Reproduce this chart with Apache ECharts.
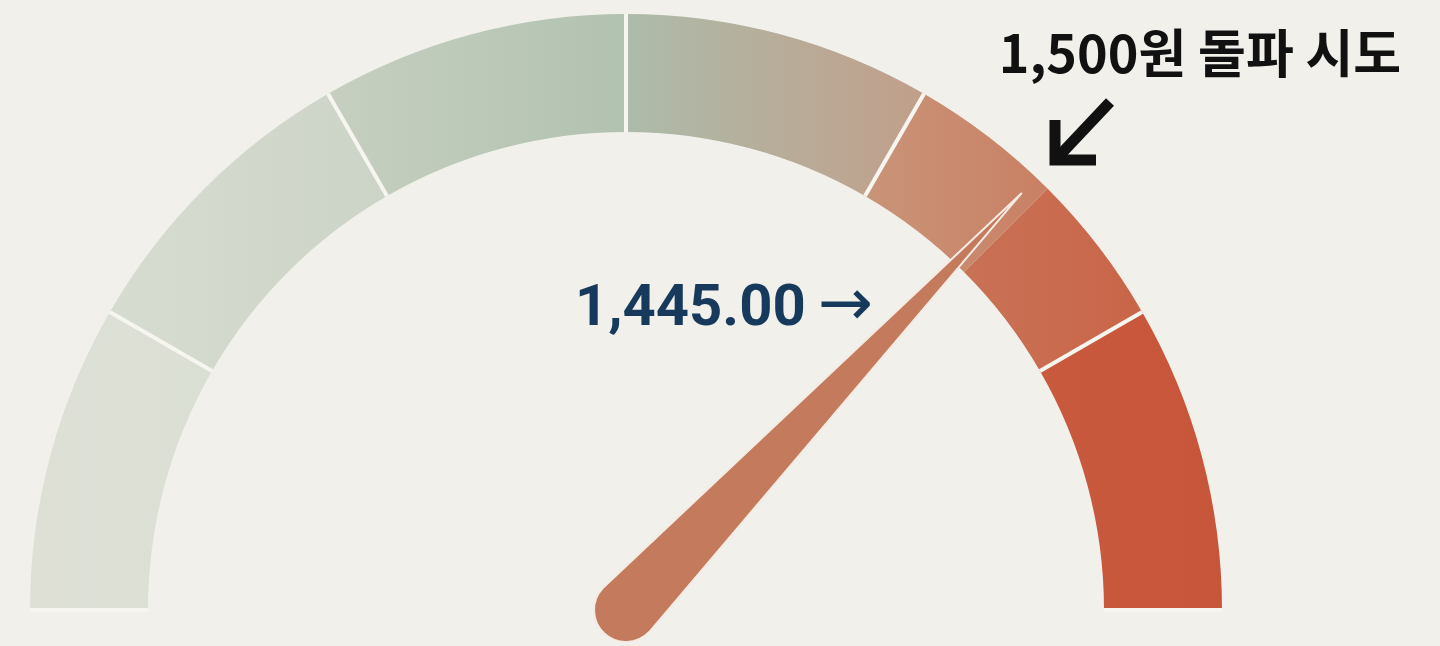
<!DOCTYPE html>
<html>
<head>
<meta charset="utf-8">
<script src="https://cdn.jsdelivr.net/npm/echarts@6/dist/echarts.min.js"></script>
<style>
  html, body { margin: 0; padding: 0; background: #f1f0eb; }
  #gauge { width: 1440px; height: 646px; }
</style>
</head>
<body>
<div id="gauge"></div>
<script>
// scale of the dial and the current rate
var scaleMin = 1000;
var scaleMax = 1600;
var rateValue = 1445;
var breakLevel = 1500;
var breakText = '원 돌파 시도';

// colour bands (upper bound of each band) and their left/right colours
var bandEnds = [1100, 1200, 1300, 1400, 1450, 1500, 1600];
var bandColors = [
  ['#dee0d6', '#dadfd4'],
  ['#d7dcd0', '#ccd4c7'],
  ['#c6cfc0', '#b2c2b0'],
  ['#adbbaa', '#c19f8a'],
  ['#c99479', '#c98064'],
  ['#c97256', '#c96549'],
  ['#c95a3e', '#c7553a']
];

var chart = echarts.init(document.getElementById('gauge'));

var axisColors = bandEnds.map(function (end, i) {
  return [
    (end - scaleMin) / (scaleMax - scaleMin),
    new echarts.graphic.LinearGradient(0, 0, 1, 0, [
      { offset: 0, color: bandColors[i][0] },
      { offset: 1, color: bandColors[i][1] }
    ])
  ];
});

var fmt = function (v, d) {
  return v.toLocaleString('en-US', { minimumFractionDigits: d, maximumFractionDigits: d });
};

chart.setOption({
  backgroundColor: '#f1f0eb',
  animation: false,
  series: [{
    type: 'gauge',
    center: [626, 610],
    radius: 596,
    startAngle: 180,
    endAngle: 0,
    min: scaleMin,
    max: scaleMax,
    splitNumber: 6,
    axisLine: {
      lineStyle: { width: 118, color: axisColors }
    },
    splitLine: {
      distance: -118,
      length: 118,
      lineStyle: { color: '#f6f5f0', width: 4 }
    },
    axisTick: { show: false },
    axisLabel: { show: false },
    pointer: {
      icon: 'path://M32,0 L64,575 A32,32 0 0 1 0,575 Z',
      width: 64,
      length: 607,
      offsetCenter: [0, 32],
      itemStyle: {
        color: '#c47b5d',
        borderColor: '#f4ece4',
        borderWidth: 2
      }
    },
    anchor: { show: false },
    title: { show: false },
    detail: {
      offsetCenter: [98, -300],
      formatter: function (v) { return '{v|' + fmt(v, 2) + '}{a|→}'; },
      rich: {
        v: {
          color: '#173a5c',
          fontFamily: 'Roboto',
          fontWeight: 'bold',
          fontSize: 58
        },
        a: {
          color: '#173a5c',
          fontFamily: 'DejaVu Sans',
          fontWeight: 'normal',
          fontSize: 66,
          padding: [0, 0, 4, 12]
        }
      }
    },
    data: [{ value: rateValue }]
  }],
  graphic: [
    {
      type: 'text',
      x: 1200,
      y: 53,
      style: {
        text: fmt(breakLevel, 0) + breakText,
        fill: '#111111',
        font: 'bold 52px "Noto Sans CJK KR"',
        textAlign: 'center',
        textVerticalAlign: 'middle'
      }
    },
    {
      type: 'group',
      children: [
        {
          type: 'line',
          shape: { x1: 1110, y1: 102, x2: 1060, y2: 155 },
          style: { stroke: '#111111', lineWidth: 11 }
        },
        {
          type: 'polyline',
          shape: { points: [[1055, 120], [1055, 160], [1096, 160]] },
          style: { stroke: '#111111', lineWidth: 11, fill: null, lineJoin: 'miter' }
        }
      ]
    }
  ]
});
</script>
</body>
</html>
